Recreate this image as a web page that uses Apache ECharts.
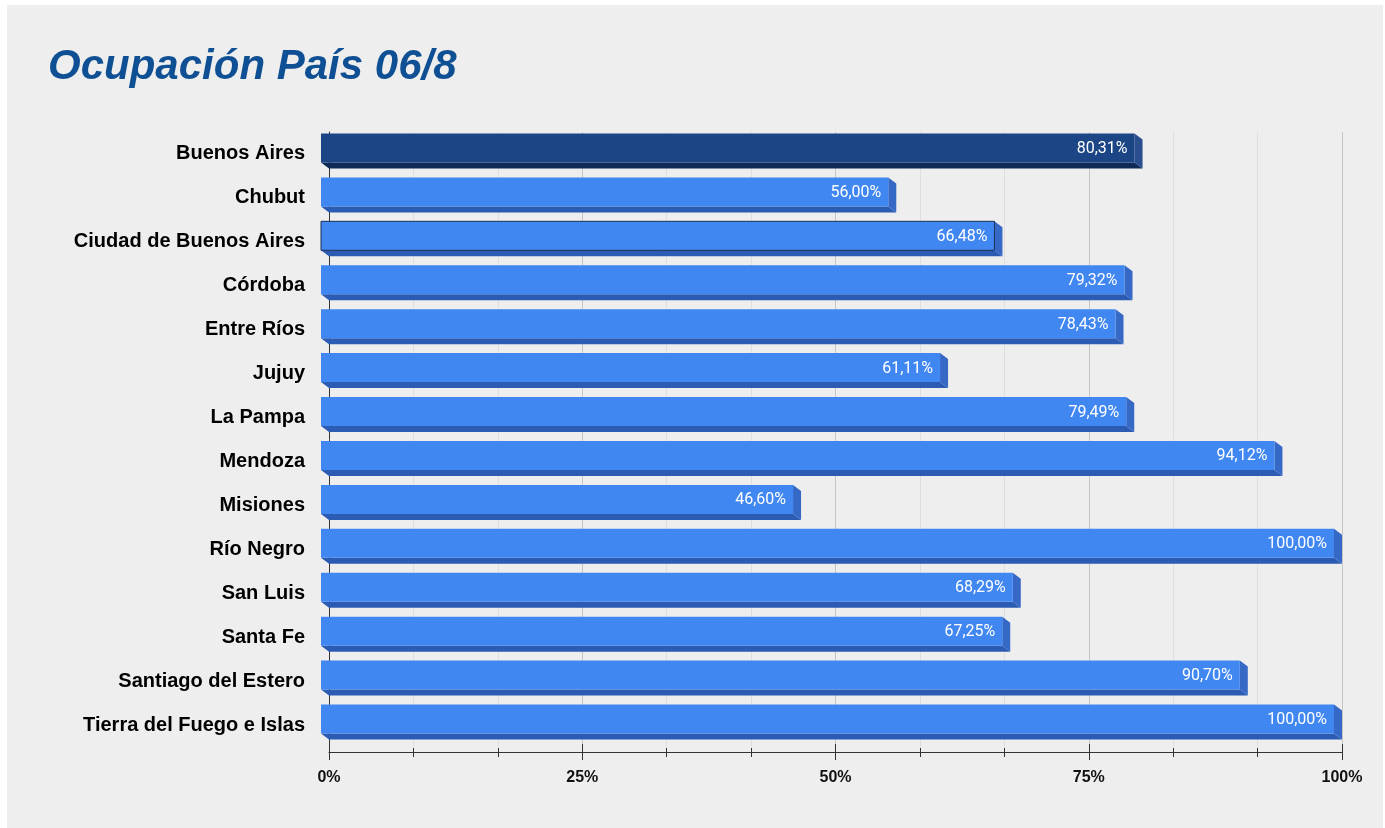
<!DOCTYPE html>
<html>
<head>
<meta charset="utf-8">
<script src="https://cdn.jsdelivr.net/npm/echarts@6/dist/echarts.min.js"></script>
<style>
html,body{margin:0;padding:0;background:#ffffff;}
#chart{width:1385px;height:828px;}
</style>
</head>
<body>
<div id="chart"></div>
<script>
const categories = ["Buenos Aires","Chubut","Ciudad de Buenos Aires","Córdoba","Entre Ríos","Jujuy","La Pampa","Mendoza","Misiones","Río Negro","San Luis","Santa Fe","Santiago del Estero","Tierra del Fuego e Islas"];
const values = [80.31,56.00,66.48,79.32,78.43,61.11,79.49,94.12,46.60,100.00,68.29,67.25,90.70,100.00];
const xTicks = [0,25,50,75,100];

const chart = echarts.init(document.getElementById('chart'));
const DX = 8, DY = 6;
const normal = {front:'#4187f2', bottom:'#2b5bb3', side:'#3668c6'};
const highlight = {front:'#1c4585', bottom:'#0e2a57', side:'#2b4f8e'};

function fmt(v){ return v.toFixed(2).replace('.', ',') + '%'; }

function renderItem(params, api){
  const idx = api.value(0);
  const v = api.value(1);
  const p0 = api.coord([0, idx]);
  const p1 = api.coord([v, idx]);
  const band = api.size([0, 1])[1];
  const h = band * 0.66;
  const x0 = p0[0], x1 = p1[0];
  const yt = p0[1] - h/2, yb = p0[1] + h/2;
  const c = idx === 0 ? highlight : normal;
  const children = [
    {type:'polygon', shape:{points:[[x0-DX,yb-DY],[x1-DX,yb-DY],[x1,yb],[x0,yb]]}, style:{fill:c.bottom}},
    {type:'polygon', shape:{points:[[x1-DX,yt-DY],[x1,yt],[x1,yb],[x1-DX,yb-DY]]}, style:{fill:c.side}},
    {type:'rect', shape:{x:x0-DX, y:yt-DY, width:x1-x0, height:h}, style:{fill:c.front, stroke: idx===2 ? '#1a2f55' : null, lineWidth: idx===2 ? 1 : 0}},
    {type:'text', style:{text:fmt(v), x:x1-DX-7, y:(yt+yb)/2-DY+1, align:'right', verticalAlign:'middle', fill:'#ffffff', font:'16px Roboto'}}
  ];
  return {type:'group', children};
}

const option = {
  backgroundColor:'#ffffff',
  animation:false,
  graphic:[
    {type:'rect', z:-10, silent:true, shape:{x:7, y:5, width:1376, height:823}, style:{fill:'#eeeeee'}},
    {type:'text', left:48, top:46, style:{text:'Ocupación País 06/8', font:'italic bold 42px "Liberation Sans", Arial, sans-serif', fill:'#0f4f93'}}
  ],
  grid:{left:329, right:43, top:132, bottom:81, containLabel:false},
  xAxis:[{
    type:'value', min:0, max:100, interval:25, position:'bottom', offset:5,
    axisLine:{show:true, lineStyle:{color:'#333333', width:1}},
    axisTick:{show:true, length:8, lineStyle:{color:'#333333'}},
    minorTick:{show:true, splitNumber:3, length:5, lineStyle:{color:'#333333'}},
    splitLine:{show:true, lineStyle:{color:'#c6c6c6'}},
    minorSplitLine:{show:true, lineStyle:{color:'#dedede'}},
    axisLabel:{formatter: v => xTicks.includes(v) ? v + '%' : '', color:'#111111', fontFamily:'"Liberation Sans", Arial, sans-serif', fontWeight:'bold', fontSize:16, margin:18}
  },{
    type:'value', min:0, max:100, interval:25, position:'bottom', offset:5,
    axisLine:{show:false},
    axisTick:{show:true, inside:true, length:8, lineStyle:{color:'#333333'}},
    minorTick:{show:true, splitNumber:3, length:4, lineStyle:{color:'#333333'}},
    splitLine:{show:false},
    axisLabel:{show:false}
  }],
  yAxis:{
    type:'category', data:categories, inverse:true,
    axisLine:{show:true, lineStyle:{color:'#333333'}},
    axisTick:{show:false},
    axisLabel:{color:'#000000', fontFamily:'"Liberation Sans", Arial, sans-serif', fontWeight:'bold', fontSize:20, margin:24, align:'right',
      formatter: v => v}
  },
  series:[{
    type:'custom',
    renderItem: renderItem,
    encode:{x:1, y:0},
    data: values.map((v,i)=>[i, v]),
    z:3
  }]
};
chart.setOption(option);
</script>
</body>
</html>
